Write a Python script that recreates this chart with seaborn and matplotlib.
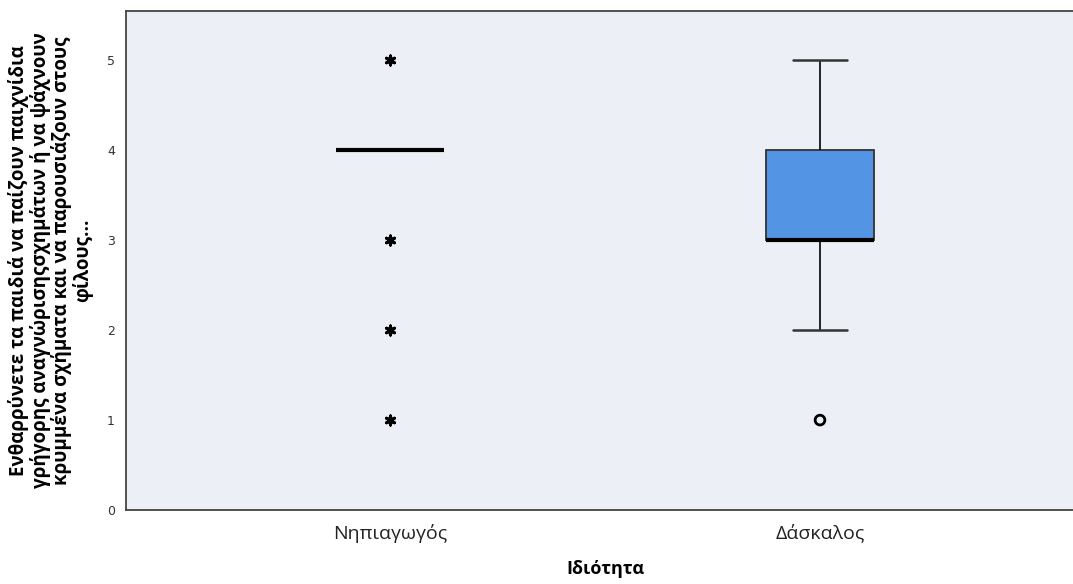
import matplotlib
matplotlib.use("Agg")
import matplotlib.pyplot as plt
import seaborn as sns
import numpy as np
import pandas as pd

# ---- data ----
categories = ["Νηπιαγωγός", "Δάσκαλος"]
nipiagogos_scores = [1, 2, 3, 4, 4, 4, 4, 4, 4, 4, 4, 4, 4, 4, 4, 4, 4, 4, 4, 4, 4, 5]
daskalos_scores = [1, 2, 2, 3, 3, 3, 3, 3, 3, 3, 3, 4, 4, 4, 4, 4, 4, 5, 5]
y_ticks = [0, 1, 2, 3, 4, 5]
y_label = ("Ενθαρρύνετε τα παιδιά να παίζουν παιχνίδια\n"
           "γρήγορης αναγνώρισηςσχημάτων ή να ψάχνουν\n"
           "κρυμμένα σχήματα και να παρουσιάζουν στους\n"
           "φίλους...")
x_label = "Ιδιότητα"

df = pd.DataFrame({
    "group": [categories[0]] * len(nipiagogos_scores) + [categories[1]] * len(daskalos_scores),
    "score": nipiagogos_scores + daskalos_scores,
})

# SPSS-style outliers (>1.5 IQR) and extremes (>3 IQR)
out_rows, ext_rows = [], []
for g, vals in zip(categories, [nipiagogos_scores, daskalos_scores]):
    v = np.asarray(vals)
    q1, q3 = np.percentile(v, [25, 75])
    iqr = q3 - q1
    for s in sorted(set(v.tolist())):
        d = max(q1 - s, s - q3)
        if d > 3 * iqr:
            ext_rows.append((g, s))
        elif d > 1.5 * iqr:
            out_rows.append((g, s))
ext_df = pd.DataFrame(ext_rows, columns=["group", "score"])
out_df = pd.DataFrame(out_rows, columns=["group", "score"])

sns.set_theme(style="white")
fig = plt.figure(figsize=(10.73, 5.84), dpi=100)
ax = fig.add_axes([126 / 1073, 74 / 584, 958 / 1073, 499 / 584])
ax.set_facecolor("#ECF0F6")

sns.boxplot(data=df, x="group", y="score", order=categories, ax=ax,
            width=0.25, color="#5394E4", saturation=1, showfliers=False,
            whis=1.5, linewidth=1.3, linecolor="#222222",
            medianprops={"color": "black", "linewidth": 3},
            whiskerprops={"color": "black", "linewidth": 1.2},
            capprops={"color": "#333333", "linewidth": 1.8},
            boxprops={"edgecolor": "#333333", "linewidth": 1.3})

sns.stripplot(data=ext_df, x="group", y="score", order=categories, ax=ax,
              jitter=False, marker=(6, 2, 0), size=6.5, linewidth=2.2,
              color="black", edgecolor="black")
sns.stripplot(data=out_df, x="group", y="score", order=categories, ax=ax,
              jitter=False, marker="o", size=7, linewidth=2,
              color="white", edgecolor="black", facecolor="none")

ax.set_xlim(-0.614, 1.614)
ax.set_ylim(0, 5.55)
ax.set_yticks(y_ticks)
ax.set_yticklabels([str(t) for t in y_ticks], fontsize=9, color="#333333",
                   family="DejaVu Sans")
ax.tick_params(axis="both", length=0)
ax.tick_params(axis="y", pad=8)
ax.tick_params(axis="x", pad=10)
for lab in ax.get_xticklabels():
    lab.set_fontsize(14)
    lab.set_family("Open Sans")
    lab.set_color("#222222")

for side in ["left", "bottom", "top"]:
    ax.spines[side].set_visible(True)
    ax.spines[side].set_color("#444444")
    ax.spines[side].set_linewidth(1.3)
ax.spines["right"].set_visible(False)

ax.set_xlabel(x_label, fontsize=13, fontweight="bold", family="Open Sans",
              labelpad=12, color="black")
ax.set_ylabel(y_label, fontsize=13.5, fontweight="bold", family="Open Sans",
              linespacing=1.02, color="black")
ax.yaxis.set_label_coords(-0.034, 0.5)

fig.savefig("out.png", dpi=100)
